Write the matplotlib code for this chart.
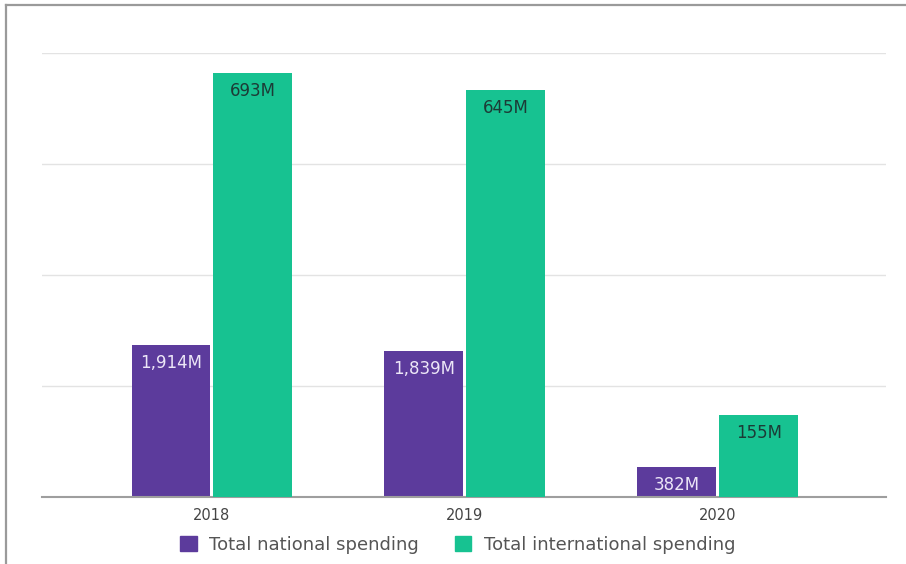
import matplotlib.pyplot as plt
from matplotlib.patches import Patch
import numpy as np

years = ["2018", "2019", "2020"]
national = [1914, 1839, 382]        # million
international = [693, 645, 155]     # million
national_labels = ["1,914M", "1,839M", "382M"]
international_labels = ["693M", "645M", "155M"]

purple = "#5c3b9c"
green = "#17c291"

W, H = 906, 564
fig = plt.figure(figsize=(W / 100, H / 100), dpi=100)
fig.patch.set_facecolor("white")

# thin gray frame along the top and left edges
fig.add_artist(plt.Line2D([6 / W, 1], [1 - 5 / H, 1 - 5 / H], color="#9a9a9a", lw=1.6))
fig.add_artist(plt.Line2D([6 / W, 6 / W], [0, 1 - 5 / H], color="#9a9a9a", lw=1.6))

ax = fig.add_axes([42 / W, 67 / H, (886 - 42) / W, (497 - 53) / H])
ax2 = ax.twinx()

x = np.arange(len(years))
bw = 0.312
gap = 0.006

ax.bar(x - bw / 2 - gap, national, width=bw, color=purple, zorder=3)
ax.set_ylim(0, 5600)
ax.set_xlim(-0.672, 2.665)
ax.set_yticks(np.linspace(0, 5600, 5))
ax.yaxis.grid(True, color="#e3e3e3", lw=1, zorder=0)
ax.tick_params(axis="y", left=False, labelleft=False)
ax.set_xticks(x)
ax.set_xticklabels(years, color="#444444", fontsize=10.5)
ax.tick_params(axis="x", length=0, pad=8)
for s in ["top", "right", "left"]:
    ax.spines[s].set_visible(False)
ax.spines["bottom"].set_color("#9e9e9e")
ax.spines["bottom"].set_linewidth(1.5)
ax.spines["bottom"].set_zorder(5)

# international spending on its own (log) scale
ax2.set_yscale("log")
ax2.set_ylim(108, 757)
ax2.bar(x + bw / 2 + gap, international, width=bw, color=green, zorder=3)
ax2.tick_params(axis="y", right=False, labelright=False, which="both")
for s in ax2.spines.values():
    s.set_visible(False)

for xi, v, lab in zip(x, national, national_labels):
    ax.annotate(lab, (xi - bw / 2 - gap, v), xytext=(0, -18), textcoords="offset pixels",
                ha="center", va="center", color="#ece6f7", fontsize=12, zorder=6)
for xi, v, lab in zip(x, international, international_labels):
    ax2.annotate(lab, (xi + bw / 2 + gap, v), xytext=(0, -18), textcoords="offset pixels",
                 ha="center", va="center", color="#1c3b36", fontsize=12, zorder=6)

handles = [Patch(color=purple, label="Total national spending"),
           Patch(color=green, label="Total international spending")]
fig.legend(handles=handles, loc="center", bbox_to_anchor=(458 / W, 1 - 545 / H), ncol=2,
           frameon=False, fontsize=13, labelcolor="#555555", handlelength=0.9,
           handleheight=0.9, handletextpad=0.7, columnspacing=2.0)

fig.savefig("out.png", dpi=100)
